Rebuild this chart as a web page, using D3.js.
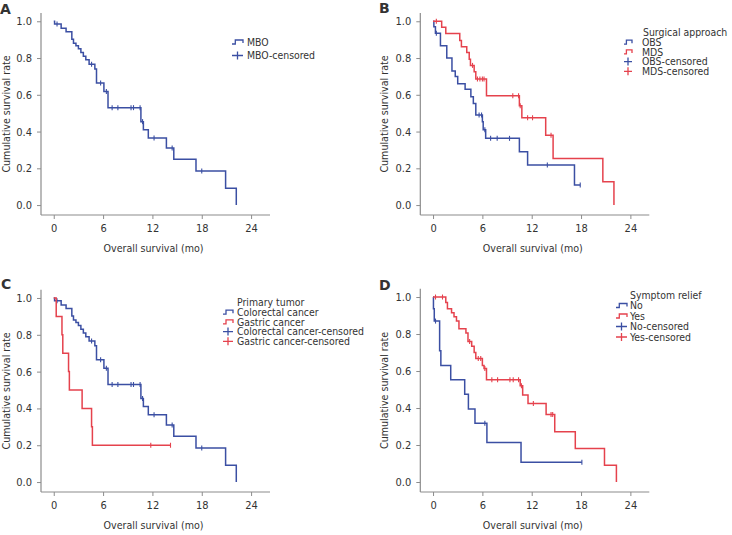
<!DOCTYPE html>
<html><head><meta charset="utf-8">
<script src="https://cdn.jsdelivr.net/npm/d3@7"></script>
<style>
body{margin:0;background:#fff;}
svg text{font-family:"DejaVu Sans Condensed","DejaVu Sans",sans-serif;fill:#333;}
</style></head>
<body>
<svg id="c" width="732" height="535"></svg>
<script>
// ---------- data ----------
const xTicks = [0, 6, 12, 18, 24];
const yTicks = [0, 0.2, 0.4, 0.6, 0.8, 1.0];

// Panel A: MBO
const mboTimes = [0.1,0.9,1.5,2.2,2.4,2.7,3.0,3.3,3.6,3.9,4.3,5.0,5.2,6.1,6.6,10.6,10.9,11.5,13.7,14.6,17.3,20.9,22.2];
const mboSurv  = [0.985,0.962,0.943,0.902,0.88,0.867,0.85,0.83,0.81,0.79,0.766,0.74,0.664,0.618,0.53,0.454,0.41,0.365,0.31,0.249,0.185,0.091,0];
const mboCensor = [0.4,4.6,5.7,6.4,7.1,7.8,9.4,9.7,10.5,10.8,12.2,14.4,18.0];
const mboEnd = 22.2;

// Panel B: Surgical approach
const obsTimes = [0.1,0.29,0.9,1.67,2.3,2.7,3.0,3.9,4.6,4.9,5.2,6.0,6.1,6.4,10.5,11.5,17.2];
const obsSurv  = [0.97,0.935,0.867,0.8,0.73,0.7,0.66,0.63,0.59,0.553,0.49,0.454,0.41,0.363,0.29,0.218,0.109];
const obsCensor = [0.4,5.6,5.9,6.3,7.0,7.8,9.3,13.9,17.9];
const obsEnd = 17.9;
const mdsTimes = [1.05,1.55,3.25,3.45,4.1,4.4,4.55,5.0,5.2,6.5,10.5,10.8,13.7,14.6,20.65,22.0];
const mdsSurv  = [0.967,0.933,0.895,0.862,0.83,0.793,0.76,0.726,0.686,0.595,0.54,0.475,0.38,0.254,0.127,0];
const mdsCensor = [0.4,4.8,5.4,5.7,6.0,6.2,9.7,10.4,10.6,11.5,12.1,14.35];
const mdsEnd = 22.0;

// Panel C: Primary tumor
const crcTimes = [0.1,0.9,1.5,2.2,2.4,2.7,3.0,3.3,3.6,3.9,4.3,5.0,5.2,6.1,6.6,10.6,10.9,11.5,13.7,14.6,17.3,20.9,22.2];
const crcSurv  = [0.985,0.962,0.943,0.902,0.88,0.867,0.85,0.83,0.81,0.79,0.766,0.74,0.664,0.618,0.53,0.454,0.41,0.365,0.31,0.249,0.185,0.091,0];
const crcCensor = [0.4,4.6,5.7,6.4,7.1,7.8,9.4,9.7,10.5,10.8,12.2,14.4,18.0];
const crcEnd = 22.2;
const gcTimes = [0.3,1.0,1.1,1.8,1.9,3.45,4.6,4.7];
const gcSurv  = [0.9,0.8,0.7,0.6,0.5,0.4,0.3,0.2];
const gcCensor = [11.8,14.2];
const gcEnd = 14.2;

// Panel D: Symptom relief
const noTimes = [0.05,0.15,0.8,0.95,2.15,3.85,4.3,5.1,6.55,10.7];
const noSurv  = [0.937,0.87,0.71,0.63,0.553,0.475,0.395,0.317,0.214,0.107];
const noCensor = [0.3,6.3,18.1];
const noEnd = 18.1;
const yesTimes = [1.55,1.75,2.25,2.55,2.85,3.15,4.0,4.25,4.7,5.0,5.2,6.0,6.2,6.5,10.6,10.9,11.55,13.75,14.8,17.3,20.85,22.3];
const yesSurv  = [0.97,0.937,0.915,0.893,0.87,0.828,0.806,0.76,0.734,0.70,0.668,0.63,0.614,0.553,0.52,0.47,0.425,0.365,0.272,0.181,0.09,0];
const yesCensor = [0.3,1.15,4.45,5.5,5.8,6.3,7.15,7.85,9.35,9.75,10.4,10.75,12.2,14.35,14.55];
const yesEnd = 22.3;

const BLUE = "#3b4fa3", RED = "#e5424d";
const FS = 10.6, LFS = 10.4;

const panels = [
  {label:"A", left:41, top:13, bottom:215, right:270, ytitleX:6, labelX:0, labelY:14,
   legend:{ix:232, tx:247, ttx:247, y:42, title:null, gap:13.5, iw:11,
     items:[["MBO","line",BLUE],["MBO-censored","plus",BLUE]]},
   series:[[mboTimes,mboSurv,mboCensor,mboEnd,BLUE]]},
  {label:"B", left:420.3, top:13, bottom:215, right:649.3, ytitleX:384.5, labelX:379, labelY:13,
   legend:{ix:624, tx:642, ttx:643, y:32.5, title:"Surgical approach", gap:9.7, iw:8,
     items:[["OBS","line",BLUE],["MDS","line",RED],["OBS-censored","plus",BLUE],["MDS-censored","plus",RED]]},
   series:[[obsTimes,obsSurv,obsCensor,obsEnd,BLUE],[mdsTimes,mdsSurv,mdsCensor,mdsEnd,RED]]},
  {label:"C", left:41, top:289.7, bottom:492, right:270, ytitleX:6, labelX:1, labelY:289,
   legend:{ix:223, tx:237, ttx:237, y:302.5, title:"Primary tumor", gap:9.7, iw:10,
     items:[["Colorectal cancer","line",BLUE],["Gastric cancer","line",RED],["Colorectal cancer-censored","plus",BLUE],["Gastric cancer-censored","plus",RED]]},
   series:[[crcTimes,crcSurv,crcCensor,crcEnd,BLUE],[gcTimes,gcSurv,gcCensor,gcEnd,RED]]},
  {label:"D", left:420.3, top:288.7, bottom:492, right:649.3, ytitleX:384.5, labelX:379, labelY:290,
   legend:{ix:616, tx:630, ttx:630, y:295, title:"Symptom relief", gap:10.5, iw:11,
     items:[["No","line",BLUE],["Yes","line",RED],["No-censored","plus",BLUE],["Yes-censored","plus",RED]]},
   series:[[noTimes,noSurv,noCensor,noEnd,BLUE],[yesTimes,yesSurv,yesCensor,yesEnd,RED]]}
];

const svg = d3.select("#c");
const AX = "#8c8c8c";

panels.forEach(p => {
  const g = svg.append("g");
  const x = d3.scaleLinear().domain([-1.55, 26.3]).range([p.left, p.right]);
  const y = d3.scaleLinear().domain([-0.054, 1.045]).range([p.bottom, p.top]);

  const xa = g.append("g").attr("transform", `translate(0,${p.bottom})`)
    .call(d3.axisBottom(x).tickValues(xTicks).tickSize(4).tickPadding(5).tickFormat(d3.format("d")));
  const ya = g.append("g").attr("transform", `translate(${p.left},0)`)
    .call(d3.axisLeft(y).tickValues(yTicks).tickSize(4).tickPadding(5).tickFormat(d3.format(".1f")));
  [xa, ya].forEach(a => {
    a.select(".domain").attr("stroke", AX).attr("stroke-width", 1.2)
      .attr("d", a === xa ? `M${p.left},0H${p.right}` : `M0,${p.top}V${p.bottom}`);
    a.selectAll(".tick line").attr("stroke", AX);
    a.selectAll(".tick text").attr("font-size", 11).attr("fill", "#333")
      .style("font-family", '"DejaVu Sans Condensed","DejaVu Sans",sans-serif');
  });

  g.append("text").attr("x", (p.left + p.right) / 2 - 2).attr("y", p.bottom + 37)
    .attr("text-anchor", "middle").attr("font-size", FS).text("Overall survival (mo)");
  g.append("text").attr("transform", `translate(${p.ytitleX},${(p.top + p.bottom) / 2}) rotate(-90)`)
    .attr("text-anchor", "middle").attr("dy", "0.35em").attr("font-size", FS).text("Cumulative survival rate");
  g.append("text").attr("x", p.labelX).attr("y", p.labelY).attr("font-size", 14)
    .attr("font-weight", "bold").style("font-family", '"DejaVu Sans",sans-serif').attr("fill", "#111").text(p.label);

  p.series.forEach(([ts, ss, cs, end, col]) => {
    const pts = [[0, 1]];
    let cur = 1;
    ts.forEach((t, i) => { pts.push([t, cur]); pts.push([t, ss[i]]); cur = ss[i]; });
    if (end > ts[ts.length - 1]) pts.push([end, cur]);
    const line = d3.line().x(d => x(d[0])).y(d => y(d[1]));
    g.append("path").attr("d", line(pts)).attr("fill", "none").attr("stroke", col)
      .attr("stroke-width", 1.5);
    const survAt = t => { let s = 1; ts.forEach((tt, i) => { if (tt <= t) s = ss[i]; }); return s; };
    g.selectAll(null).data(cs).enter().append("line")
      .attr("x1", d => x(d)).attr("x2", d => x(d))
      .attr("y1", d => y(survAt(d)) - 2.5).attr("y2", d => y(survAt(d)) + 2.5)
      .attr("stroke", col).attr("stroke-width", 1.1);
  });

  const L = p.legend;
  let yy = L.y;
  const lg = g.append("g");
  if (L.title) {
    lg.append("text").attr("x", L.ttx).attr("y", yy).attr("dy", "0.35em").attr("font-size", LFS).text(L.title);
    yy += L.gap;
  }
  L.items.forEach(([name, kind, col]) => {
    const sx = L.ix, w = L.iw;
    if (kind === "line") {
      lg.append("path").attr("d", `M${sx},${yy + 2}H${sx + w * 0.3}V${yy - 2}H${sx + w}V${yy + 1}`)
        .attr("fill", "none").attr("stroke", col).attr("stroke-width", 1.3);
    } else {
      lg.append("path").attr("d", `M${sx},${yy}H${sx + w}M${sx + w / 2},${yy - 4}V${yy + 4}`)
        .attr("fill", "none").attr("stroke", col).attr("stroke-width", 1.3);
    }
    lg.append("text").attr("x", L.tx).attr("y", yy).attr("dy", "0.35em").attr("font-size", LFS).text(name);
    yy += L.gap;
  });
});
</script>
</body></html>
